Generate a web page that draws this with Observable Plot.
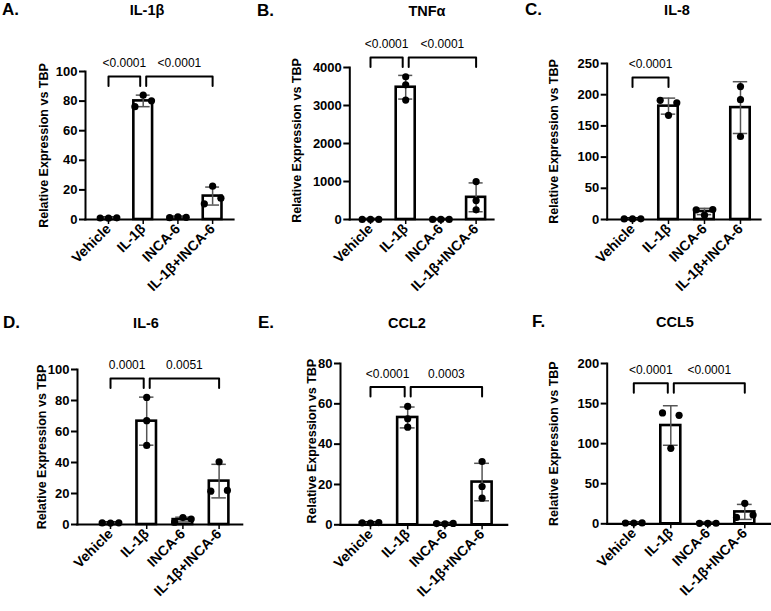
<!DOCTYPE html>
<html><head><meta charset="utf-8">
<script src="https://cdn.jsdelivr.net/npm/d3@7"></script>
<script src="https://cdn.jsdelivr.net/npm/@observablehq/plot@0.6"></script>
<style>
html,body{margin:0;padding:0;background:#fff;}
#root{position:relative;width:771px;height:611px;overflow:hidden;font-family:"Liberation Sans",Arial,Helvetica,sans-serif;}
#root > svg{position:absolute;}
</style></head><body><div id="root"></div>
<script>
// ---------- data ----------
const categories = ["Vehicle", "IL-1β", "INCA-6", "IL-1β+INCA-6"];
const genes = ["IL-1β", "TNFα", "IL-8", "IL-6", "CCL2", "CCL5"];
const panelLetters = ["A.", "B.", "C.", "D.", "E.", "F."];
const yLabel = "Relative Expression vs TBP";
const yMax = [100, 4000, 250, 100, 80, 200];
const yTicks = [
  [0, 20, 40, 60, 80, 100],
  [0, 1000, 2000, 3000, 4000],
  [0, 50, 100, 150, 200, 250],
  [0, 20, 40, 60, 80, 100],
  [0, 20, 40, 60, 80],
  [0, 50, 100, 150, 200]
];
// replicate values, per category: Vehicle, IL-1β, INCA-6, IL-1β+INCA-6
const il1bValues = [[1.0, 0.9, 1.1], [76.2, 84.0, 80.2], [1.2, 1.8, 1.5], [10.6, 22.5, 14.4]];
const tnfaValues = [[1.0, 0.9, 1.1], [3755, 3545, 3142], [0.8, 1.0, 0.9], [998, 499, 254]];
const il8Values  = [[1.0, 0.9, 1.1], [191, 167, 187], [15.5, 7, 16], [213, 192, 133]];
const il6Values  = [[1.0, 0.9, 1.1], [82, 67, 51], [1.5, 4.5, 3.5], [21.5, 40.5, 22]];
const ccl2Values = [[1.0, 0.9, 1.1], [58.7, 52.6, 48.4], [0.6, 0.5, 0.7], [31.4, 19, 13.2]];
const ccl5Values = [[1.0, 0.9, 1.1], [138.3, 94.2, 135.4], [0.6, 0.5, 0.7], [8, 25.5, 11]];
const valuesByPanel = [il1bValues, tnfaValues, il8Values, il6Values, ccl2Values, ccl5Values];
// significance brackets: category index pairs, p-values, bracket height (data units)
const bracketPairs = [[[0, 1], [1, 3]], [[0, 1], [1, 3]], [[0, 1]], [[0, 1], [1, 3]], [[0, 1], [1, 3]], [[0, 1], [1, 3]]];
const bracketLabels = [["<0.0001", "<0.0001"], ["<0.0001", "<0.0001"], ["<0.0001"], ["0.0001", "0.0051"], ["<0.0001", "0.0003"], ["<0.0001", "<0.0001"]];
const bracketHeights = [96.6, 4263, 227.6, 94.2, 68.3, 175.4];

// ---------- layout (not data) ----------
const FONT = '"Liberation Sans", Arial, Helvetica, sans-serif';
const layout = [
  {left: 0,   top: 0,   width: 257, height: 300, ml: 85,   mr: 24,  mt: 71, mb: 81,   xd: [-0.663, 3.602], ylabX: 43.3, ylabDy: 0,  title: [147, 15], letter: [2, 15]},
  {left: 257, top: 0,   width: 257, height: 300, ml: 92.3, mr: 21,  mt: 67, mb: 81,   xd: [-0.588, 3.494], ylabX: 39.7, ylabDy: -3, title: [427, 16], letter: [257, 16]},
  {left: 514, top: 0,   width: 257, height: 300, ml: 92.7, mr: 11,  mt: 63, mb: 81,   xd: [-0.703, 3.556], ylabX: 39.3, ylabDy: 0,  title: [677, 15], letter: [525, 15]},
  {left: 0,   top: 300, width: 257, height: 311, ml: 77,   mr: 15.3, mt: 69, mb: 87,  xd: [-0.912, 3.638], ylabX: 41,   ylabDy: 0,  title: [146, 328], letter: [3, 328]},
  {left: 257, top: 300, width: 257, height: 311, ml: 83,   mr: 7.3, mt: 63, mb: 86.7, xd: [-0.806, 3.675], ylabX: 54,   ylabDy: -3, title: [407, 328], letter: [258, 328]},
  {left: 514, top: 300, width: 257, height: 311, ml: 92.7, mr: 0,   mt: 63, mb: 87.7, xd: [-0.719, 3.722], ylabX: 39.3, ylabDy: 0,  title: [675, 327], letter: [532, 327]}
];

const root = document.getElementById("root");

layout.forEach((L, i) => {
  const vals = valuesByPanel[i];
  const innerH = L.height - L.mt - L.mb;
  const pxPerUnit = innerH / yMax[i];
  const innerW = L.width - L.ml - L.mr;
  const pxPerX = innerW / (L.xd[1] - L.xd[0]);

  const summary = vals.map((arr, k) => ({k, mean: d3.mean(arr), sd: d3.deviation(arr)}));

  const points = [];
  vals.forEach((arr, k) => {
    const overlap = arr.some((a, p) => arr.some((b, q) => p < q && Math.abs(a - b) * pxPerUnit < 7));
    arr.forEach((v, p) => points.push({k, v, off: overlap ? p - 1 : 0}));
  });
  const spread = 8.3 / pxPerX;

  // brackets
  const pairs = bracketPairs[i];
  const gap = 3 / pxPerX;
  const leg = 9.5 / pxPerUnit;
  const h = bracketHeights[i];
  const bracketPts = [];
  const bracketText = [];
  pairs.forEach(([a, b], j) => {
    const sharedA = pairs.some(([c, d], m) => m !== j && (c === a || d === a));
    const sharedB = pairs.some(([c, d], m) => m !== j && (c === b || d === b));
    const x1 = a + (sharedA ? gap : 0);
    const x2 = b - (sharedB ? gap : 0);
    bracketPts.push({id: j, x: x1, y: h - leg}, {id: j, x: x1, y: h}, {id: j, x: x2, y: h}, {id: j, x: x2, y: h - leg});
    bracketText.push({x: (x1 + x2) / 2, y: h + 13 / pxPerUnit, text: bracketLabels[i][j]});
  });

  const hw = 0.27;
  const cw = 0.2;
  const svg = Plot.plot({
    width: L.width, height: L.height,
    marginLeft: L.ml, marginRight: L.mr, marginTop: L.mt, marginBottom: L.mb,
    style: {fontFamily: FONT, fontSize: "13px", color: "#000", background: "transparent", overflow: "visible"},
    x: {type: "linear", domain: L.xd},
    y: {domain: [0, yMax[i]]},
    marks: [
      Plot.rectY(summary, {x1: d => d.k - hw, x2: d => d.k + hw, y1: 0, y2: "mean", fill: "white", stroke: "black", strokeWidth: 2.6}),
      Plot.ruleX(summary, {x: "k", y1: d => d.mean - d.sd, y2: d => d.mean + d.sd, stroke: "#555", strokeWidth: 1.5}),
      Plot.ruleY(summary, {x1: d => d.k - cw, x2: d => d.k + cw, y: d => d.mean + d.sd, stroke: "#555", strokeWidth: 1.5}),
      Plot.ruleY(summary, {x1: d => d.k - cw, x2: d => d.k + cw, y: d => d.mean - d.sd, stroke: "#555", strokeWidth: 1.5}),
      Plot.dot(points, {x: d => d.k + d.off * spread, y: "v", r: 3.6, fill: "black", stroke: "none"}),
      Plot.frame({anchor: "left", stroke: "black", strokeWidth: 2}),
      Plot.frame({anchor: "bottom", stroke: "black", strokeWidth: 2.2}),
      Plot.axisY({ticks: yTicks[i], tickFormat: d3.format("d"), tickSize: 6, tickPadding: 2, strokeWidth: 2, fontWeight: "bold", fontSize: 13, label: null}),
      Plot.axisX({ticks: [0, 1, 2, 3], tickFormat: k => categories[k], tickRotate: -45, tickSize: 5, tickPadding: 2, strokeWidth: 1.5, fontWeight: "bold", fontSize: 14, label: null}),
      Plot.line(bracketPts, {x: "x", y: "y", z: "id", stroke: "black", strokeWidth: 2}),
      Plot.text(bracketText, {x: "x", y: "y", text: "text", fontSize: 12, fill: "black"}),
      Plot.text([yLabel], {frameAnchor: "left", textAnchor: "middle", rotate: -90, dx: L.ylabX - L.ml, dy: L.ylabDy, fontWeight: "bold", fontSize: 12.5, fill: "black"})
    ]
  });
  svg.style.left = L.left + "px";
  svg.style.top = L.top + "px";
  root.appendChild(svg);
});

// titles and panel letters
const overlay = d3.select(root).append("svg")
  .attr("width", 771).attr("height", 611)
  .style("left", "0px").style("top", "0px").style("pointer-events", "none")
  .style("font-family", FONT);
layout.forEach((L, i) => {
  overlay.append("text").attr("x", L.title[0]).attr("y", L.title[1])
    .attr("text-anchor", "middle").attr("font-weight", "bold").attr("font-size", 14.5)
    .text(genes[i]);
  overlay.append("text").attr("x", L.letter[0]).attr("y", L.letter[1])
    .attr("font-weight", "bold").attr("font-size", 17)
    .text(panelLetters[i]);
});
</script>
</body></html>
